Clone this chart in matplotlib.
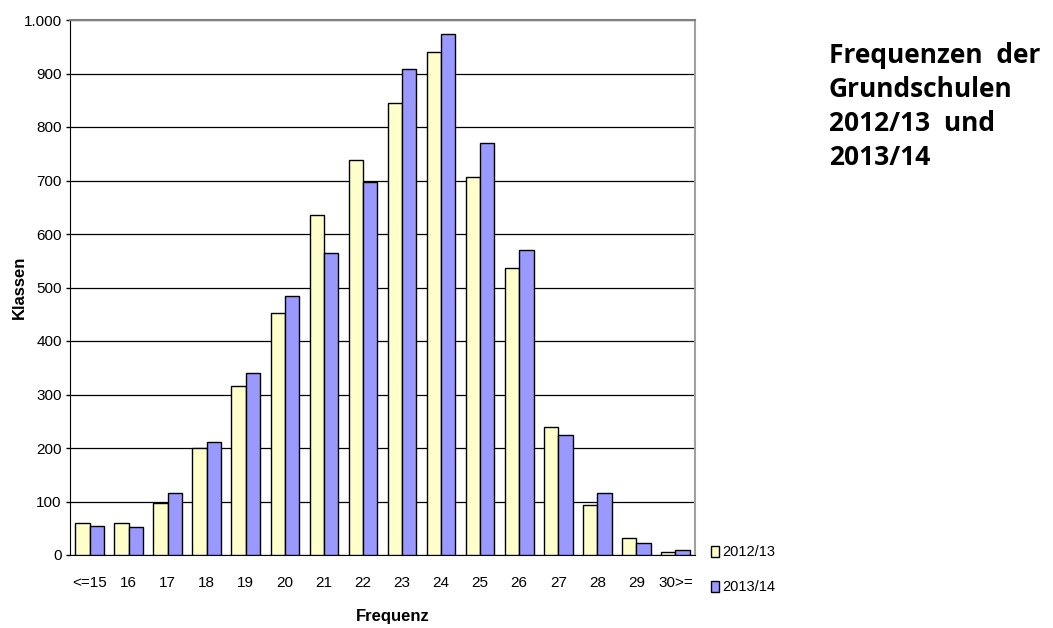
import numpy as np
import matplotlib.pyplot as plt
from matplotlib.patches import Rectangle

# Klassen je Frequenz
kategorien = ['<=15', '16', '17', '18', '19', '20', '21', '22', '23', '24',
              '25', '26', '27', '28', '29', '30>=']
werte_1213 = [59, 59, 97, 200, 315, 452, 636, 739, 845, 940, 707, 536, 240, 93, 31, 6]
werte_1314 = [55, 53, 115, 212, 340, 484, 565, 698, 908, 973, 770, 570, 224, 115, 22, 9]
y_ticks = [0, 100, 200, 300, 400, 500, 600, 700, 800, 900, 1000]
y_labels = ['0', '100', '200', '300', '400', '500', '600', '700', '800', '900', '1.000']

font = ['Liberation Sans Narrow', 'Liberation Sans', 'DejaVu Sans']
plt.rcParams['font.family'] = font

fig = plt.figure(figsize=(10.53, 6.28), dpi=100)
ax = fig.add_axes([70 / 1053, 1 - 555 / 628, 625 / 1053, 535 / 628])

x = np.arange(len(kategorien))
w = 0.366
ax.bar(x - w / 2, werte_1213, w, color='#FFFFCC', edgecolor='black', linewidth=1.0, zorder=3)
ax.bar(x + w / 2, werte_1314, w, color='#9999FF', edgecolor='black', linewidth=1.0, zorder=3)

ax.set_xlim(-0.5, len(kategorien) - 0.5)
ax.set_ylim(0, 1000)
ax.set_yticks(y_ticks)
ax.set_yticklabels(y_labels, fontsize=11)
ax.set_xticks(x)
ax.set_xticklabels(kategorien, fontsize=11)
ax.tick_params(axis='x', length=0, pad=15)
ax.tick_params(axis='y', length=3, width=1, pad=3)
ax.grid(axis='y', color='black', linewidth=0.9, zorder=0)

ax.spines['left'].set_color('black')
ax.spines['bottom'].set_color('black')
ax.spines['top'].set_color('#808080')
ax.spines['top'].set_linewidth(1.5)
ax.spines['right'].set_color('#a0a0a0')
ax.spines['right'].set_linewidth(1.5)

ax.set_ylabel('Klassen', fontsize=12, fontweight='bold')
ax.yaxis.set_label_coords(-0.069, 0.5)
ax.set_xlabel('Frequenz', fontsize=12, fontweight='bold')
ax.xaxis.set_label_coords(0.517, -0.1)

# Legende rechts unten neben der Achse
for i, (lab, col) in enumerate([('2012/13', '#FFFFCC'), ('2013/14', '#9999FF')]):
    yp = 1 - (552 + 35 * i) / 628
    fig.patches.append(Rectangle((711 / 1053, yp - 5 / 628), 8 / 1053, 11 / 628,
                                 transform=fig.transFigure, facecolor=col,
                                 edgecolor='black', linewidth=1.0))
    fig.text(722 / 1053, yp, lab, fontsize=10.5, va='center', ha='left')

fig.text(829 / 1053, 1 - 42 / 628,
         'Frequenzen  der\nGrundschulen\n2012/13  und\n2013/14',
         fontsize=19, fontweight='bold', va='top', ha='left',
         family=['Open Sans', 'DejaVu Sans'], linespacing=1.33)

fig.savefig('out.png', dpi=100)
